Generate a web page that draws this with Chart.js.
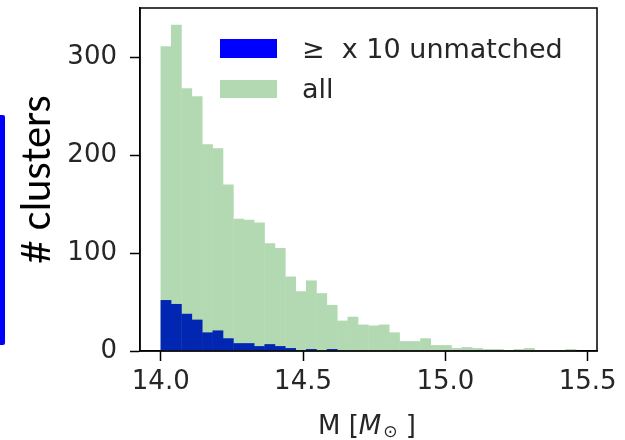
<!DOCTYPE html>
<html>
<head>
<meta charset="utf-8">
<script src="https://cdn.jsdelivr.net/npm/chart.js@4.4.0/dist/chart.umd.min.js"></script>
<style>
  html, body { margin: 0; padding: 0; background: #fff; }
  #wrap { position: relative; width: 625px; height: 440px; }
  #edge { position: absolute; left: 0; top: 115px; width: 5px; height: 230px; background: #0000ff; border-radius: 0 2px 2px 0; }
</style>
</head>
<body>
<div id="wrap"><canvas id="c" width="625" height="440"></canvas><div id="edge"></div></div>
<script>
// histogram bins (centres, 40 bins from 14.0 to 15.46)
const binCenters = [14.01825, 14.05475, 14.09125, 14.12775, 14.16425, 14.20075, 14.23725, 14.27375,
  14.31025, 14.34675, 14.38325, 14.41975, 14.45625, 14.49275, 14.52925, 14.56575, 14.60225, 14.63875,
  14.67525, 14.71175, 14.74825, 14.78475, 14.82125, 14.85775, 14.89425, 14.93075, 14.96725, 15.00375,
  15.04025, 15.07675, 15.11325, 15.14975, 15.18625, 15.22275, 15.25925, 15.29575, 15.33225, 15.36875,
  15.40525, 15.44175];
const allCounts = [311, 333, 268, 260, 211, 207, 170, 135, 134, 131, 110, 105, 76, 61, 72, 59, 47, 31,
  35, 27, 26, 27, 19, 10, 10, 13, 6, 6, 3, 4, 3, 2, 2, 1, 2, 3, 1, 1, 1, 2];
const unmatchedCounts = [52, 48, 38, 32, 19, 21, 13, 8, 8, 5, 7, 5, 3, 1, 2, 0, 2, 0, 0, 0, 0, 0, 0, 0,
  0, 0, 0, 0, 0, 0, 0, 0, 0, 0, 0, 0, 0, 0, 0, 0];
const seriesLabels = ["\u2265  x 10 unmatched", "all"];
const xTicks = [14.0, 14.5, 15.0, 15.5];
const yTicks = [0, 100, 200, 300];

// blue bars sit under a translucent green layer, so on the plot they read darker
const BLUE = "#0000ff", BLUE_UNDER = "#0026b2", GREEN = "#b2d9b2", INK = "#262626";
const legendColors = [BLUE, GREEN];
const tickFont = { family: "DejaVu Sans", size: 26 };

const pts = (ys) => binCenters.map((x, i) => ({ x: x, y: ys[i] }));

// frame, legend and x label drawn on top of the plot
const extras = {
  id: "extras",
  afterDraw(chart) {
    const { ctx, chartArea: a } = chart;
    ctx.save();
    ctx.strokeStyle = "#000";
    ctx.lineWidth = 1.5;
    ctx.strokeRect(a.left, a.top, a.right - a.left, a.bottom - a.top);

    // legend
    const rows = [{ y: 39, h: 19, base: 58 }, { y: 80, h: 18, base: 98 }];
    chart.data.datasets.forEach((ds, i) => {
      const r = rows[i];
      ctx.fillStyle = legendColors[i];
      ctx.fillRect(220, r.y, 57, r.h);
      ctx.fillStyle = INK;
      ctx.font = '27px "DejaVu Sans"';
      ctx.textBaseline = "alphabetic";
      ctx.textAlign = "left";
      ctx.fillText(ds.label, 302, r.base);
    });

    // x label: M [M_sun ]
    let x = 318;
    const y = 434;
    ctx.font = '26px "DejaVu Sans"';
    ctx.fillText("M [", x, y);
    x += ctx.measureText("M [").width;
    ctx.font = 'oblique 26px "DejaVu Sans"';
    ctx.fillText("M", x, y);
    x += ctx.measureText("M").width + 2;
    ctx.font = '17px "DejaVu Sans"';
    ctx.fillText("\u2299", x, y + 3);
    x += ctx.measureText("\u2299").width;
    ctx.font = '26px "DejaVu Sans"';
    ctx.fillText(" ]", x, y);
    ctx.restore();
  }
};

new Chart(document.getElementById("c"), {
  type: "bar",
  data: {
    datasets: [
      { label: seriesLabels[0], data: pts(unmatchedCounts), backgroundColor: BLUE_UNDER, order: 0 },
      { label: seriesLabels[1], data: pts(allCounts), backgroundColor: GREEN, order: 1 },
    ],
  },
  options: {
    responsive: false,
    animation: false,
    layout: { padding: { top: 8, right: 28, left: 0, bottom: 0 } },
    datasets: { bar: { grouped: false, categoryPercentage: 1, barPercentage: 1.04, borderWidth: 0 } },
    plugins: { legend: { display: false }, tooltip: { enabled: false } },
    scales: {
      x: {
        type: "linear", offset: false, min: 13.927, max: 15.533,
        afterBuildTicks: (s) => { s.ticks = xTicks.map((v) => ({ value: v })); },
        afterFit: (s) => { s.height = 89; s.paddingLeft = 0; s.paddingRight = 0; },
        grid: { display: true, drawOnChartArea: false, tickLength: 10, tickColor: "#000", tickWidth: 1.5, offset: false },
        border: { display: true, color: "#000", width: 1.5 },
        ticks: { color: INK, font: tickFont, padding: 6, maxRotation: 0, callback: (v) => Number(v).toFixed(1) },
      },
      y: {
        min: 0, max: 350,
        afterBuildTicks: (s) => { s.ticks = yTicks.map((v) => ({ value: v })); },
        afterFit: (s) => { s.width = 140; s.paddingTop = 0; s.paddingBottom = 0; },
        grid: { display: true, drawOnChartArea: false, tickLength: 10, tickColor: "#000", tickWidth: 1.5 },
        border: { display: true, color: "#000", width: 1.5 },
        ticks: { color: INK, font: tickFont, padding: 13 },
        title: { display: true, text: "# clusters", color: "#000", font: { family: "Lato", size: 40 }, padding: { top: 13 } },
      },
    },
  },
  plugins: [extras],
});
</script>
</body>
</html>
